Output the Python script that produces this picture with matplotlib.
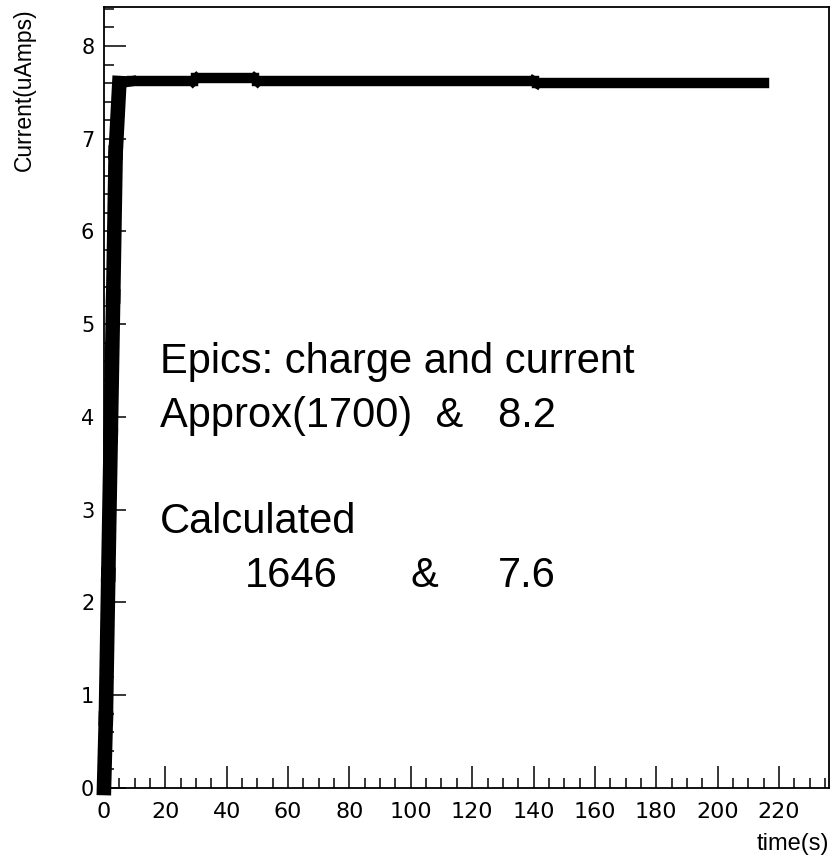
import matplotlib
matplotlib.use("Agg")
import matplotlib.pyplot as plt
from matplotlib.collections import LineCollection
from matplotlib.ticker import MultipleLocator
import numpy as np

# ---- data ----
time_s = [0, 0.6, 1.4, 2.2, 3.0, 3.8, 5.0, 9, 29, 30, 49, 50, 140, 141, 215]
current = [0.0, 0.75, 2.3, 3.8, 5.3, 6.85, 7.60, 7.62, 7.62, 7.65, 7.65, 7.62, 7.62, 7.60, 7.60]

x_ticks = [0, 20, 40, 60, 80, 100, 120, 140, 160, 180, 200, 220]
y_ticks = [0, 1, 2, 3, 4, 5, 6, 7, 8]

x_label = "time(s)"
y_label = "Current(uAmps)"
note_lines = ["Epics: charge and current", "Approx(1700)  &   8.2", "Calculated"]
calc_values = ["1646", "&", "7.6"]

plt.rcParams['font.family'] = ['Liberation Sans', 'DejaVu Sans']

W, H = 833, 858
fig = plt.figure(figsize=(W / 100, H / 100), dpi=100)
ax = fig.add_axes([104 / W, 1 - 788 / H, (829 - 104) / W, (788 - 7) / H])

pts = np.column_stack([time_s, current])
segs = np.stack([pts[:-1], pts[1:]], axis=1)
# steep (rising) segments render thicker, as in the original ROOT drawing
widths = [10.5 if abs(b[1] - a[1]) > 0.5 else 7.5 for a, b in segs]
lc = LineCollection(segs, colors='black', linewidths=widths, capstyle='projecting',
                    clip_on=False, zorder=3)
ax.add_collection(lc)

ax.set_xlim(0, 236.3)
ax.set_ylim(0, 8.42)

ax.set_xticks(x_ticks)
ax.set_yticks(y_ticks)
ax.xaxis.set_minor_locator(MultipleLocator(5))
ax.yaxis.set_minor_locator(MultipleLocator(0.2))
ax.tick_params(which='both', direction='in', top=False, right=False, width=1.1, colors='black')
ax.tick_params(which='major', length=16)
ax.tick_params(which='minor', length=7)
ax.tick_params(axis='x', which='major', pad=10, labelsize=16)
ax.tick_params(axis='y', which='major', pad=7, labelsize=15)
for lab in ax.get_xticklabels() + ax.get_yticklabels():
    lab.set_family(['DejaVu Sans'])

for s in ax.spines.values():
    s.set_linewidth(1.3)
    s.set_color('black')

fig.text(829 / W, 1 - 858 / H + 0.004, x_label, ha='right', va='bottom', fontsize=17)
fig.text(24 / W, 1 - 8 / H, y_label, ha='center', va='top', rotation=90, fontsize=16.5)

baselines = [373, 427, 533]
for line, yb in zip(note_lines, baselines):
    fig.text(160 / W, 1 - yb / H, line, ha='left', va='baseline', fontsize=30)
for txt, xp in zip(calc_values, [245, 411, 498]):
    fig.text(xp / W, 1 - 587 / H, txt, ha='left', va='baseline', fontsize=30)

fig.savefig("out.png", dpi=100)
